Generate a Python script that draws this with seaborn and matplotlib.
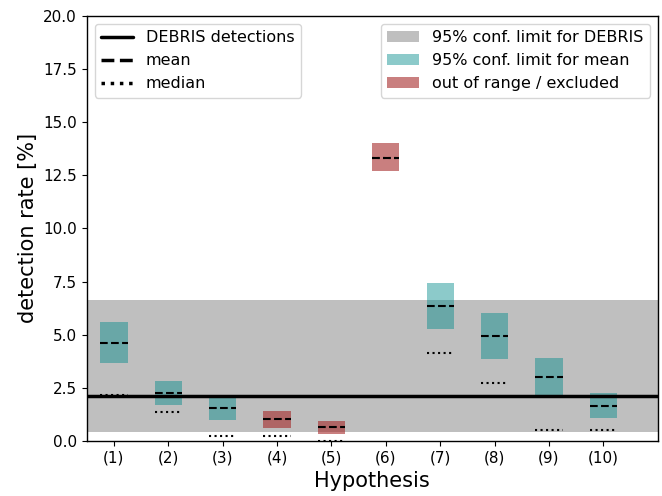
import numpy as np
import pandas as pd
import seaborn as sns
import matplotlib
matplotlib.use("Agg")
import matplotlib.pyplot as plt
from matplotlib.lines import Line2D
from matplotlib.patches import Patch

# ---- data ----
hypotheses = ["(1)", "(2)", "(3)", "(4)", "(5)", "(6)", "(7)", "(8)", "(9)", "(10)"]
ci_low = [3.65, 1.69, 0.99, 0.60, 0.33, 12.69, 5.26, 3.87, 2.10, 1.07]
ci_high = [5.58, 2.82, 2.10, 1.41, 0.94, 14.00, 7.44, 6.02, 3.89, 2.26]
means = [4.63, 2.26, 1.55, 1.02, 0.66, 13.33, 6.37, 4.96, 3.01, 1.66]
medians = [2.16, 1.35, 0.25, 0.25, 0.0, 13.33, 4.13, 2.74, 0.52, 0.52]
excluded = [False, False, False, True, True, True, False, False, False, False]
debris_rate = 2.1
debris_ci = (0.42, 6.64)

sns.set_style("ticks")
plt.rcParams["font.family"] = ["DejaVu Sans"]
plt.rcParams.update({
    "text.color": "black", "axes.labelcolor": "black",
    "xtick.color": "black", "ytick.color": "black",
    "axes.edgecolor": "black", "axes.linewidth": 1.0,
})

df = pd.DataFrame({"hyp": hypotheses, "low": ci_low, "high": ci_high,
                   "mean": means, "median": medians, "excl": excluded})
df["pos"] = np.arange(1, len(df) + 1)

fig, ax = plt.subplots(figsize=(6.62, 4.96), dpi=100)
fig.subplots_adjust(left=0.131, right=0.9935, bottom=0.111, top=0.968)

ok_color = "darkcyan"
ok_alpha = 0.45
ex_color = "brown"
ex_alpha = 0.6
band_color = "gray"
band_alpha = 0.5

ax.axhspan(debris_ci[0], debris_ci[1], color=band_color, alpha=band_alpha, lw=0, zorder=1)

w = 0.5
for _, r in df.iterrows():
    col = ex_color if r["excl"] else ok_color
    al = ex_alpha if r["excl"] else ok_alpha
    ax.bar(r["pos"], r["high"] - r["low"], bottom=r["low"], width=w,
           color=col, alpha=al, lw=0, zorder=2)

ax.axhline(debris_rate, color="black", lw=2.5, zorder=3)
ax.hlines(df["median"], df["pos"] - w / 2, df["pos"] + w / 2, colors="black",
          linestyles=":", lw=1.5, zorder=4)
ax.hlines(df["mean"], df["pos"] - w / 2, df["pos"] + w / 2, colors="black",
          linestyles="--", lw=1.5, zorder=5)

ax.set_xlim(0.5, 11)
ax.set_ylim(0, 20)
ax.set_xticks(df["pos"])
ax.set_xticklabels(df["hyp"], fontsize=11)
ax.set_yticks(np.arange(0, 20.01, 2.5))
ax.set_yticklabels([f"{v:.1f}" for v in np.arange(0, 20.01, 2.5)], fontsize=11)
ax.set_xlabel("Hypothesis", fontsize=15)
ax.set_ylabel("detection rate [%]", fontsize=15)

h1 = [Line2D([], [], color="black", lw=2.5, ls="-"),
      Line2D([], [], color="black", lw=2.5, ls="--"),
      Line2D([], [], color="black", lw=2.5, ls=":")]
leg1 = ax.legend(h1, ["DEBRIS detections", "mean", "median"], loc="upper left",
                 fontsize=11.5)
ax.add_artist(leg1)
h2 = [Patch(color=band_color, alpha=band_alpha, lw=0),
      Patch(color=ok_color, alpha=ok_alpha, lw=0),
      Patch(color=ex_color, alpha=ex_alpha, lw=0)]
ax.legend(h2, ["95% conf. limit for DEBRIS", "95% conf. limit for mean",
               "out of range / excluded"], loc="upper right", fontsize=11.5)

fig.savefig("out.png", dpi=100)
